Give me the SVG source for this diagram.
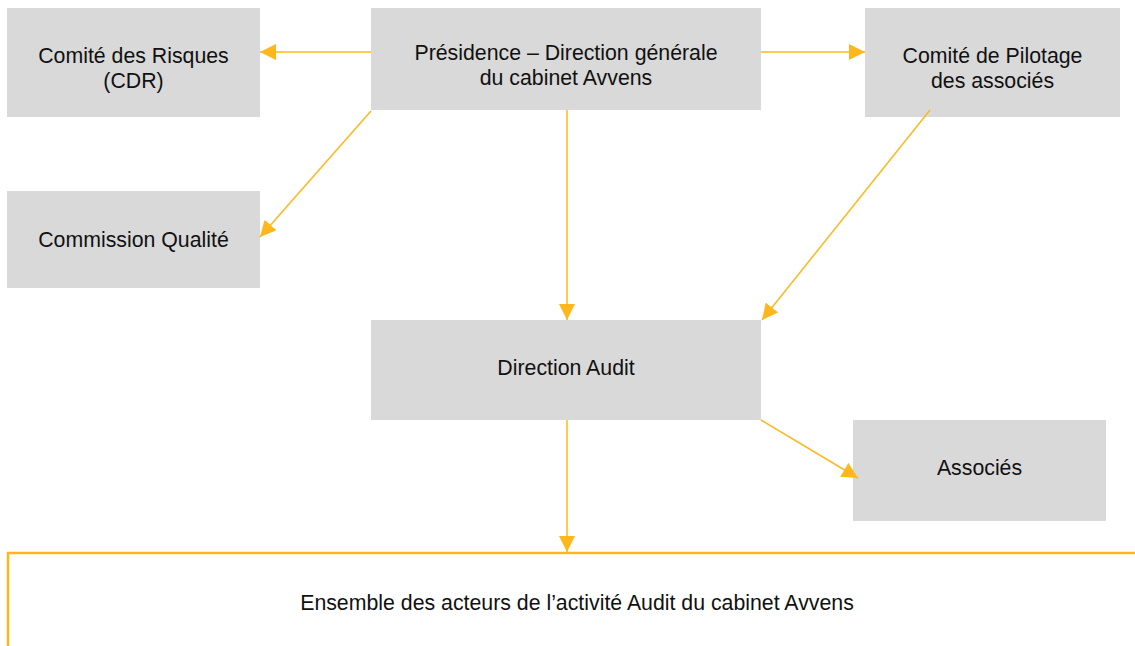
<svg xmlns="http://www.w3.org/2000/svg" width="1135" height="646" viewBox="0 0 1135 646">
<defs>
<style>
.box{fill:#d9d9d9}
.t{font-family:"Liberation Sans",Arial,sans-serif;font-size:21.3px;fill:#111;text-anchor:middle}
.c{stroke:#FFB71B;stroke-width:1.5;fill:none}
</style>
<marker id="ah" viewBox="0 0 16 16" refX="16" refY="8" markerWidth="16" markerHeight="16" markerUnits="userSpaceOnUse" orient="auto">
<path d="M0,0 L16,8 L0,16 Z" fill="#FFB71B"/>
</marker>
</defs>
<rect width="1135" height="646" fill="#fff"/>
<g id="cdr"><rect class="box" x="7" y="8" width="253" height="109"/><text class="t" x="133.5" y="63">Comité des Risques</text><text class="t" x="133.5" y="88">(CDR)</text></g>
<g id="presidence"><rect class="box" x="371" y="8" width="390" height="102"/><text class="t" x="566" y="60">Présidence – Direction générale</text><text class="t" x="566" y="85">du cabinet Avvens</text></g>
<g id="pilotage"><rect class="box" x="865" y="8" width="255" height="109"/><text class="t" x="992.5" y="63">Comité de Pilotage</text><text class="t" x="992.5" y="88">des associés</text></g>
<g id="qualite"><rect class="box" x="7" y="191" width="253" height="97"/><text class="t" x="133.5" y="247">Commission Qualité</text></g>
<g id="audit"><rect class="box" x="371" y="320" width="390" height="100"/><text class="t" x="566" y="375">Direction Audit</text></g>
<g id="associes"><rect class="box" x="853" y="420" width="253" height="101"/><text class="t" x="979.5" y="475">Associés</text></g>
<g id="ensemble"><path d="M8,646 V553 H1135" stroke="#FFB71B" stroke-width="2.5" fill="none"/><text class="t" x="577" y="610">Ensemble des acteurs de l’activité Audit du cabinet Avvens</text></g>
<g id="connectors">
<line class="c" x1="371" y1="52" x2="260" y2="52" marker-end="url(#ah)"/>
<line class="c" x1="761" y1="52" x2="865" y2="52" marker-end="url(#ah)"/>
<line class="c" x1="371" y1="111" x2="260" y2="237" marker-end="url(#ah)"/>
<line class="c" x1="567" y1="110" x2="567" y2="320" marker-end="url(#ah)"/>
<line class="c" x1="930" y1="110" x2="762" y2="320" marker-end="url(#ah)"/>
<line class="c" x1="761" y1="420" x2="858" y2="478" marker-end="url(#ah)"/>
<line class="c" x1="567" y1="420" x2="567" y2="552" marker-end="url(#ah)"/>
</g>
</svg>
